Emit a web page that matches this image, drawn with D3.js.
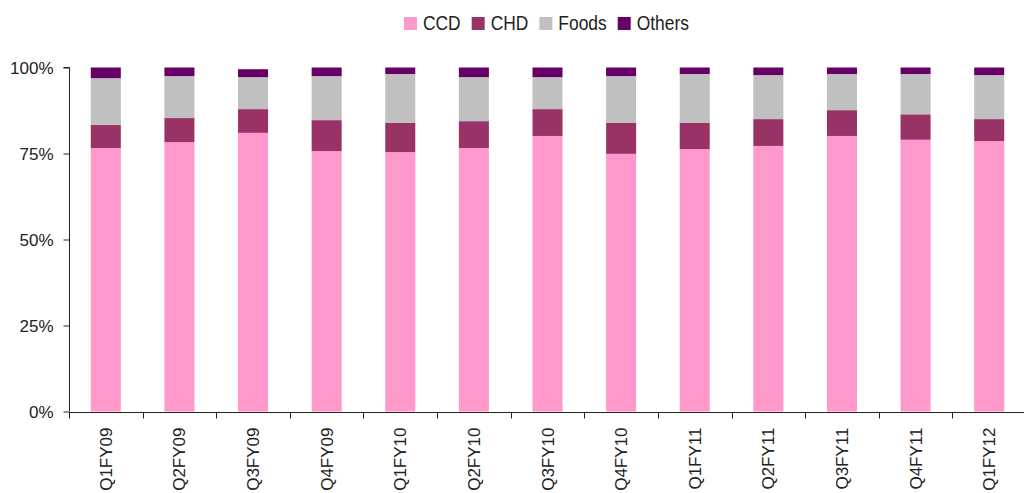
<!DOCTYPE html>
<html>
<head>
<meta charset="utf-8">
<script src="https://cdn.jsdelivr.net/npm/d3@7"></script>
<style>
  body { margin: 0; background: #fff; }
  svg { display: block; font-family: "Liberation Sans", Arial, sans-serif; }
</style>
</head>
<body>
<div id="chart"></div>
<script>
const width = 1024,
    height = 493;

// data (percent of sales)
const quarters = ["Q1FY09", "Q2FY09", "Q3FY09", "Q4FY09", "Q1FY10", "Q2FY10", "Q3FY10",
    "Q4FY10", "Q1FY11", "Q2FY11", "Q3FY11", "Q4FY11", "Q1FY12"];
const ccd    = [76.6, 78.3, 81.0, 75.7, 75.4, 76.6, 80.1, 74.9, 76.3, 77.2, 80.1, 79.0, 78.6];
const chd    = [6.7, 7.0, 6.9, 9.0, 8.5, 7.8, 7.8, 9.0, 7.6, 7.8, 7.5, 7.4, 6.4];
const foods  = [13.6, 12.2, 9.3, 12.8, 14.2, 12.8, 9.3, 13.6, 14.2, 12.8, 10.5, 11.7, 12.8];
const others = [3.1, 2.5, 2.3, 2.5, 1.9, 2.8, 2.8, 2.5, 1.9, 2.2, 1.9, 1.9, 2.2];
const seriesNames = ["CCD", "CHD", "Foods", "Others"];
const yTicks = [0, 25, 50, 75, 100];

const colors = ["#ff99cc", "#993366", "#c0c0c0", "#660066"];

const rows = quarters.map((q, i) => ({
    quarter: q, CCD: ccd[i], CHD: chd[i], Foods: foods[i], Others: others[i]
}));

const svg = d3.select("#chart")
    .append("svg")
    .attr("width", width)
    .attr("height", height);

const x = d3.scaleBand()
    .domain(quarters)
    .range([69, 1026])
    .paddingInner(0.592)
    .paddingOuter(0.296);

const y = d3.scaleLinear()
    .domain([0, 100])
    .range([411.5, 67.5]);

const color = d3.scaleOrdinal().domain(seriesNames).range(colors);

const stacked = d3.stack().keys(seriesNames)(rows);

svg.append("g")
    .selectAll("g")
    .data(stacked)
    .enter().append("g")
    .attr("fill", d => color(d.key))
    .selectAll("rect")
    .data(d => d)
    .enter().append("rect")
    .attr("x", d => x(d.data.quarter))
    .attr("y", d => y(d[1]))
    .attr("width", x.bandwidth())
    .attr("height", d => y(d[0]) - y(d[1]));

// y axis
const yAxis = svg.append("g")
    .attr("transform", "translate(69.5,0)")
    .call(d3.axisLeft(y).tickValues(yTicks).tickSize(6).tickPadding(10)
        .tickFormat(d => d + "%"));
yAxis.select(".domain").attr("stroke", "#222").attr("d", `M-6,${y(100)}H0V${y(0)}`);
yAxis.selectAll(".tick line").attr("stroke", "#222");
yAxis.selectAll("text")
    .style("font-size", "17px")
    .attr("fill", "#222")
    .attr("dy", "0.36em");

// x axis: ticks sit between categories
const step = x.step();
const xAxis = svg.append("g").attr("transform", `translate(0,${Math.round(y(0)) + 0.5})`);
xAxis.append("line")
    .attr("x1", 69).attr("x2", width)
    .attr("stroke", "#222");
xAxis.selectAll(".xtick")
    .data(quarters)
    .enter().append("line")
    .attr("class", "xtick")
    .attr("x1", (d, i) => Math.round(69 + i * step) + 0.5)
    .attr("x2", (d, i) => Math.round(69 + i * step) + 0.5)
    .attr("y1", 0).attr("y2", 6)
    .attr("stroke", "#222");
xAxis.selectAll(".xlabel")
    .data(quarters)
    .enter().append("text")
    .attr("class", "xlabel")
    .attr("transform", d => `translate(${x(d) + x.bandwidth() / 2 + 6},15) rotate(-90)`)
    .attr("text-anchor", "end")
    .style("font-size", "17px")
    .attr("fill", "#222")
    .text(d => d);

// legend - the original uses a condensed face, so squeeze the text horizontally
const squeeze = 0.87;
const legend = svg.append("g").attr("transform", "translate(404,17)");
let lx = 0;
seriesNames.forEach((name, i) => {
    const item = legend.append("g").attr("transform", `translate(${lx},0)`);
    item.append("rect")
        .attr("width", 13).attr("height", 13)
        .attr("fill", colors[i]);
    const t = item.append("text")
        .attr("transform", `translate(19,13) scale(${squeeze},1)`)
        .style("font-size", "20px")
        .attr("fill", "#222")
        .text(name);
    lx += 19 + t.node().getComputedTextLength() * squeeze + 11;
});
</script>
</body>
</html>
